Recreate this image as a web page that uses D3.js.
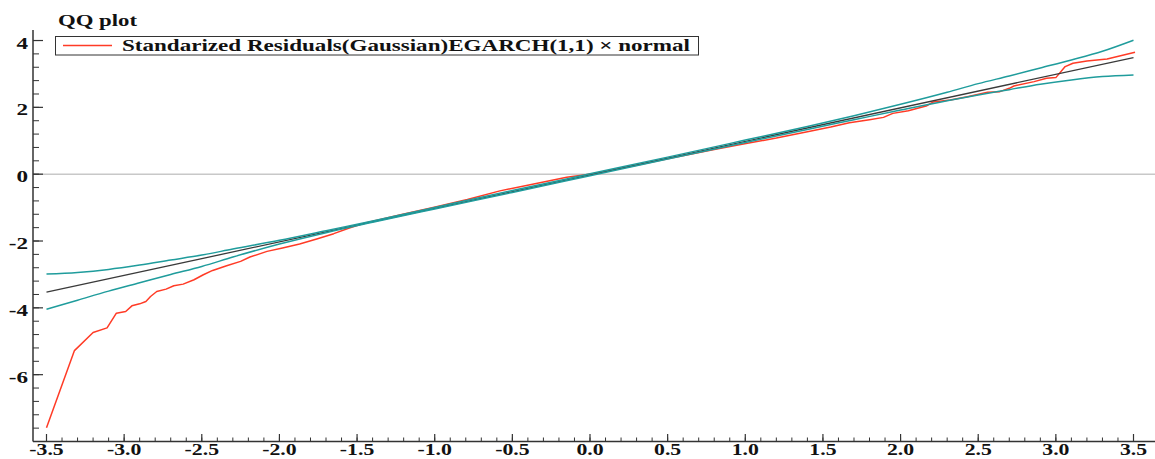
<!DOCTYPE html>
<html>
<head>
<meta charset="utf-8">
<script src="https://cdn.jsdelivr.net/npm/d3@7"></script>
<style>
  html, body { margin: 0; padding: 0; background: #fff; }
  svg { display: block; }
  text { font-family: "Liberation Serif", "DejaVu Serif", serif; font-weight: bold; fill: #111; }
</style>
</head>
<body>
<svg id="chart" width="1155" height="459"></svg>
<script>
// ---------- data ----------
const titleText = "QQ plot";
const legendLabel = "Standarized Residuals(Gaussian)EGARCH(1,1) \u00d7 normal";

const xTickValues = [-3.5, -3.0, -2.5, -2.0, -1.5, -1.0, -0.5, 0.0, 0.5, 1.0, 1.5, 2.0, 2.5, 3.0, 3.5];
const yTickValues = [-6, -4, -2, 0, 2, 4];

// empirical quantiles (red)
const redX = [-3.50, -3.32, -3.20, -3.11, -3.05, -2.99, -2.95, -2.90, -2.86, -2.83, -2.79, -2.73, -2.68, -2.62,
              -2.55, -2.49, -2.43, -2.34, -2.25, -2.19, -2.08, -1.98, -1.87, -1.76, -1.65, -1.55, -1.44, -1.22,
              -1.01, -0.79, -0.58, -0.37, -0.15, 0.02, 0.30, 0.54, 0.80, 0.97, 1.20, 1.40, 1.55, 1.67, 1.80,
              1.89, 1.95, 2.05, 2.17, 2.21, 2.32, 2.43, 2.56, 2.64, 2.70, 2.73, 2.86, 2.94, 3.00, 3.06, 3.11,
              3.20, 3.33, 3.51];
const redY = [-7.59, -5.28, -4.74, -4.60, -4.16, -4.11, -3.94, -3.88, -3.81, -3.66, -3.51, -3.44, -3.34, -3.29,
              -3.16, -3.01, -2.88, -2.74, -2.61, -2.48, -2.31, -2.21, -2.09, -1.94, -1.78, -1.61, -1.45, -1.21,
              -1.00, -0.76, -0.50, -0.30, -0.09, 0.01, 0.27, 0.50, 0.74, 0.89, 1.08, 1.27, 1.41, 1.54, 1.63,
              1.70, 1.82, 1.90, 2.05, 2.16, 2.22, 2.32, 2.45, 2.47, 2.57, 2.64, 2.77, 2.87, 2.89, 3.22, 3.32,
              3.39, 3.45, 3.65];

// reference line (black)
const refX = [-3.5, 3.5];
const refY = [-3.53, 3.49];

// confidence bands (teal)
const bandX = [-3.5, -3.3, -3.1, -2.9, -2.7, -2.5, -2.3, -2.0, -1.7, -1.4, -1.0, -0.5, 0.0, 0.5, 1.0, 1.4,
               1.7, 2.0, 2.3, 2.5, 2.7, 2.9, 3.1, 3.3, 3.5];
const bandUpper = [-2.99, -2.94, -2.85, -2.72, -2.57, -2.42, -2.24, -1.98, -1.69, -1.40, -0.995, -0.49, 0.01,
                   0.51, 1.02, 1.43, 1.75, 2.09, 2.45, 2.71, 2.94, 3.18, 3.42, 3.68, 4.01];
const bandLower = [-4.04, -3.77, -3.50, -3.25, -3.00, -2.76, -2.48, -2.09, -1.75, -1.44, -1.04, -0.545, -0.045,
                   0.455, 0.95, 1.34, 1.63, 1.92, 2.20, 2.37, 2.53, 2.69, 2.82, 2.92, 2.97];

// ---------- drawing ----------
const svg = d3.select("#chart");
const W = 1155, H = 459;
const axisX = 33, axisY = 441.5;
const x = d3.scaleLinear().domain([-3.5, 3.5]).range([46.5, 1133.5]);
const y = d3.scaleLinear().domain([-8, 4.3]).range([441.5, 30.5]);

const RED = "#ff3b26", TEAL = "#1f9c9c", BLACK = "#3a3a3a", AXIS = "#333";
const SX = 1.36; // horizontal stretch of the original text

// zero line
svg.append("line")
  .attr("x1", axisX).attr("x2", W)
  .attr("y1", y(0)).attr("y2", y(0))
  .attr("stroke", "#c8c8c8").attr("stroke-width", 1.6);

// series
const zip = (a, b) => a.map((v, i) => [v, b[i]]);
const lineGen = d3.line().x(d => x(d[0])).y(d => y(d[1]));
const smooth = d3.line().x(d => x(d[0])).y(d => y(d[1])).curve(d3.curveMonotoneX);

svg.append("path").datum(zip(redX, redY)).attr("d", lineGen)
  .attr("fill", "none").attr("stroke", RED).attr("stroke-width", 1.5).attr("stroke-linejoin", "round");
svg.append("path").datum(zip(refX, refY)).attr("d", lineGen)
  .attr("fill", "none").attr("stroke", BLACK).attr("stroke-width", 1.3);
svg.append("path").datum(zip(bandX, bandUpper)).attr("d", smooth)
  .attr("fill", "none").attr("stroke", TEAL).attr("stroke-width", 1.5);
svg.append("path").datum(zip(bandX, bandLower)).attr("d", smooth)
  .attr("fill", "none").attr("stroke", TEAL).attr("stroke-width", 1.5);

// axes
const gx = svg.append("g").attr("transform", `translate(0,${axisY})`);
gx.append("line").attr("x1", axisX).attr("x2", W).attr("y1", 0).attr("y2", 0)
  .attr("stroke", AXIS).attr("stroke-width", 1.5);
const xMinor = d3.range(-35, 36).map(v => v / 10);
gx.selectAll("line.minor").data(xMinor).enter().append("line")
  .attr("x1", d => x(d)).attr("x2", d => x(d)).attr("y1", 0).attr("y2", -4)
  .attr("stroke", AXIS).attr("stroke-width", 1);
gx.selectAll("line.major").data(xTickValues).enter().append("line")
  .attr("x1", d => x(d)).attr("x2", d => x(d)).attr("y1", 0).attr("y2", -7.5)
  .attr("stroke", AXIS).attr("stroke-width", 1.2);
gx.selectAll("text").data(xTickValues).enter().append("text")
  .attr("transform", d => `translate(${x(d)},13.5) scale(${SX},1)`)
  .attr("text-anchor", "middle").attr("font-size", 16)
  .text(d => d3.format(".1f")(d).replace("\u2212", "-"));

const gy = svg.append("g").attr("transform", `translate(${axisX},0)`);
gy.append("line").attr("x1", 0).attr("x2", 0).attr("y1", 30).attr("y2", axisY)
  .attr("stroke", AXIS).attr("stroke-width", 1.5);
const yMinor = d3.range(-20, 11).map(v => v * 0.4);
gy.selectAll("line.minor").data(yMinor).enter().append("line")
  .attr("x1", 0).attr("x2", 6).attr("y1", d => y(d)).attr("y2", d => y(d))
  .attr("stroke", AXIS).attr("stroke-width", 1);
gy.selectAll("line.major").data(yTickValues).enter().append("line")
  .attr("x1", 0).attr("x2", 10).attr("y1", d => y(d)).attr("y2", d => y(d))
  .attr("stroke", AXIS).attr("stroke-width", 1.2);
gy.selectAll("text").data(yTickValues).enter().append("text")
  .attr("transform", d => `translate(-5,${y(d) + 8}) scale(${SX},1)`)
  .attr("text-anchor", "end").attr("font-size", 17)
  .text(d => String(d).replace("\u2212", "-"));

// title
svg.append("text").attr("x", 58).attr("y", 26).attr("font-size", 16)
  .attr("textLength", 79).attr("lengthAdjust", "spacingAndGlyphs").text(titleText);

// legend
const lg = svg.append("g");
lg.append("rect").attr("x", 55.5).attr("y", 36.5).attr("width", 643).attr("height", 18.5)
  .attr("fill", "#fff").attr("stroke", AXIS).attr("stroke-width", 1);
lg.append("line").attr("x1", 63).attr("x2", 112).attr("y1", 45.5).attr("y2", 45.5)
  .attr("stroke", RED).attr("stroke-width", 1.5);
lg.append("text").attr("x", 122).attr("y", 51).attr("font-size", 16)
  .attr("textLength", 568).attr("lengthAdjust", "spacingAndGlyphs").text(legendLabel);
</script>
</body>
</html>
